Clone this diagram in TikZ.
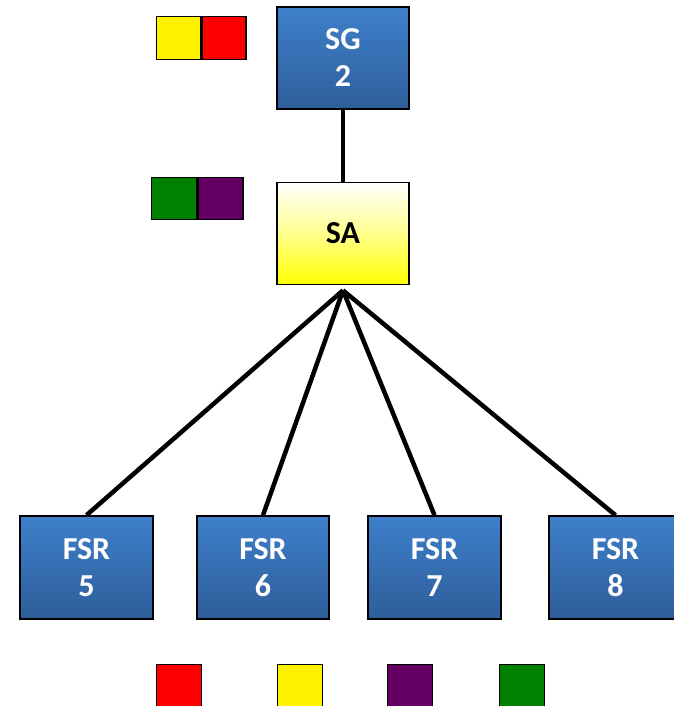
\documentclass[tikz,border=0pt]{standalone}
\usepackage{fontspec}
\setmainfont{Carlito}
\usepackage{xcolor}
\usepackage{tikz}
\usetikzlibrary{
    positioning
}

\definecolor{boxtop}{RGB}{62,127,203}
\definecolor{boxbot}{RGB}{46,94,154}
\definecolor{plum}{RGB}{100,0,100}
\definecolor{leaf}{RGB}{0,128,0}

\begin{document}
\begin{tikzpicture}[
x=1pt, y=-1pt,
node distance=72pt,
unit/.style={
draw,
line width=1.6pt,
minimum width=132pt,
minimum height=102pt,
align=center,
inner sep=0pt,
font=\fontsize{32}{37}\selectfont\bfseries
},
bluebox/.style={
unit,
top color=boxtop,
bottom color=boxbot,
text=white
},
chip/.style={
draw,
line width=1.4pt,
anchor=north west,
minimum width=44pt,
minimum height=43pt,
inner sep=0pt
},
link/.style={
line width=4.5pt
}
]

\useasboundingbox (0,0) rectangle (673,706);

\node[bluebox] (sg) at (343,58)
{SG\\2};

\node[unit, top color=white, bottom color=yellow,
middle color=yellow!45,
below=72pt of sg] (sa)
{SA};

\coordinate[below=5pt of sa] (hub);

\node[bluebox, minimum width=133pt, minimum height=103pt] (fsr5) at (86.5,567.5)
{FSR\\5};

\node[bluebox, minimum width=132pt, minimum height=103pt] (fsr6) at (263,567.5)
{FSR\\6};

\node[bluebox, minimum width=133pt, minimum height=103pt] (fsr7) at (434.5,567.5)
{FSR\\7};

\node[bluebox, minimum width=133pt, minimum height=103pt] (fsr8) at (615.5,567.5)
{FSR\\8};

% colour chips beside SG and SA
\node[chip, fill=yellow] (sgy) at (156,16) {};
\node[chip, fill=red, right=0pt of sgy.north east, anchor=north west] (sgr) {};

\node[chip, fill=leaf, minimum width=45pt, minimum height=42pt] (sag) at (151,177) {};
\node[chip, fill=plum, minimum width=45pt, minimum height=42pt,
right=0pt of sag.north east, anchor=north west] (sap) {};

% colour chips under the FSRs
\node[chip, fill=red, minimum width=45pt, minimum height=45pt] (chr) at (156,664) {};
\node[chip, fill=yellow, minimum width=45pt, minimum height=45pt] (chy) at (277,664) {};
\node[chip, fill=plum, minimum width=45pt, minimum height=45pt] (chp) at (387,664) {};
\node[chip, fill=leaf, minimum width=45pt, minimum height=45pt] (chg) at (499,664) {};

\draw[link] (sg) -- (sa);

\foreach \f in {fsr5,fsr6,fsr7,fsr8}
\draw[link] (hub) -- (\f.north);

\end{tikzpicture}
\end{document}
